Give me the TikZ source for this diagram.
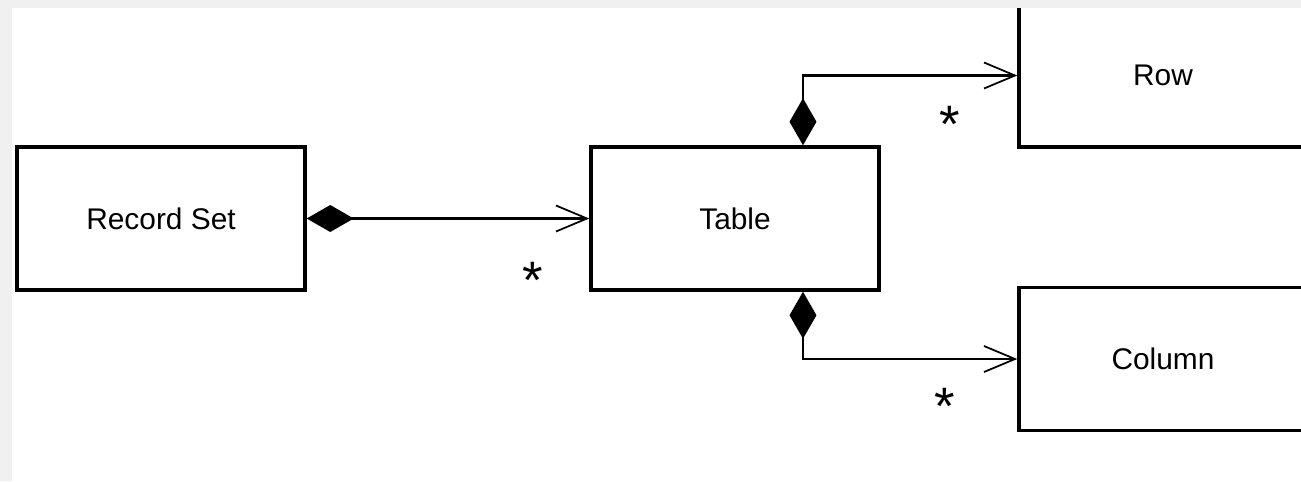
\documentclass[tikz,border=0pt]{standalone}
\usepackage{fontspec}
\setmainfont{Liberation Sans}
\usetikzlibrary{arrows.meta}
\usetikzlibrary{calc}

\tikzset{
    cls/.style={draw, line width=2pt, minimum width=5.76cm, minimum height=2.86cm,
        inner sep=0pt, font=\fontsize{17}{20}\selectfont},
    comp/.style={line width=1.4pt,
        {Diamond[length=0.94cm, width=0.54cm]}-{Straight Barb[length=0.62cm, width=0.52cm, line width=1pt]}},
    mult/.style={font=\fontsize{30}{30}\selectfont, inner sep=0pt},
    frame/.style={fill=black!6, draw=none}
}

\begin{document}
\begin{tikzpicture}[x=0.02cm, y=-0.02cm]
        \useasboundingbox (0,0) rectangle (1301,481);
        \clip (0,0) rectangle (1301,481);
        \fill[frame] (0,0) rectangle (1301,481); %window edge
        \fill[white] (12,8) rectangle (1301,481);

        \node[cls] (recset) at (161,218.5) {Record Set};
        \node[cls] (tbl) at (735,218.5) {Table};
        \node[cls] (row) at (1163,75.5) {Row};
        \node[cls] (col) at (1163,359) {Column};

        \draw[comp] (recset.east) -- (tbl.west);
        \draw[comp] ([xshift=1.36cm]tbl.north) |- (row.west);
        \draw[comp] ([xshift=1.36cm]tbl.south) |- (col.west);

        \node[mult] (m1) at (533,280) {*};
        \node[mult] (m2) at (950,124) {*};
        \node[mult] (m3) at (945,406) {*};

        \fill[frame] (0,0) rectangle (1301,8); %top strip
\end{tikzpicture}
\end{document}
